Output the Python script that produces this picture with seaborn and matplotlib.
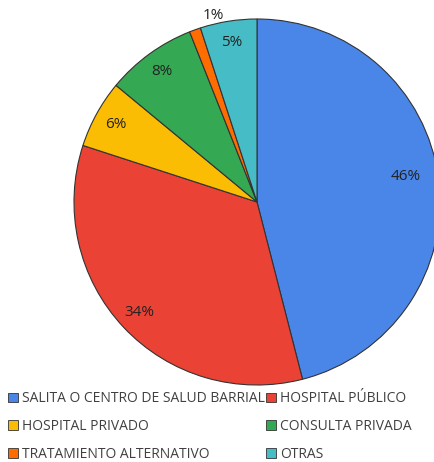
import matplotlib
matplotlib.use("Agg")
import matplotlib.pyplot as plt
import seaborn as sns
from matplotlib.patches import Patch

# --- data ---
categories = ["SALITA O CENTRO DE SALUD BARRIAL", "HOSPITAL PÚBLICO", "HOSPITAL PRIVADO",
              "CONSULTA PRIVADA", "TRATAMIENTO ALTERNATIVO", "OTRAS"]
values = [46, 34, 6, 8, 1, 5]
colors = ["#4A86E8", "#EA4335", "#FBBC04", "#34A853", "#FF6D01", "#46BDC6"]

sns.set_theme(style="white")
plt.rcParams['font.family'] = ['Open Sans', 'DejaVu Sans']

fig = plt.figure(figsize=(4.35, 4.62), dpi=100)
# pie centre ~ (257, 202) px, radius ~183 px
cx, cy, r = 257 / 435, 1 - 202 / 462, 183
ax = fig.add_axes([cx - r / 435, cy - r / 462, 2 * r / 435, 2 * r / 462])

wedges, texts, autotexts = ax.pie(
    values, colors=sns.color_palette(colors), startangle=90, counterclock=False,
    autopct=lambda p: f"{p:.0f}%", pctdistance=0.88,
    wedgeprops=dict(edgecolor="#333333", linewidth=0.8),
    textprops=dict(fontsize=11, color="#222222"))
ax.set_aspect("equal")
ax.set_xlim(-1, 1)
ax.set_ylim(-1, 1)
for w in wedges:
    w.set_clip_on(False)

# tweak label placement to follow the reference
autotexts[0].set_position((0.81, 0.14))
autotexts[4].set_position((-0.24, 1.02))

handles = [Patch(facecolor=c, edgecolor="#333333", linewidth=0.6) for c in colors]
order = [0, 2, 4, 1, 3, 5]
leg = fig.legend([handles[i] for i in order], [categories[i] for i in order],
                 ncol=2, loc="lower left", bbox_to_anchor=(0.0, -0.018),
                 frameon=False, fontsize=10, handlelength=0.7, handleheight=0.7,
                 handletextpad=0.3, columnspacing=0.05, labelspacing=0.92,
                 borderaxespad=0.2)
for t in leg.get_texts():
    t.set_color("#404040")

fig.savefig("out.png", dpi=100)
